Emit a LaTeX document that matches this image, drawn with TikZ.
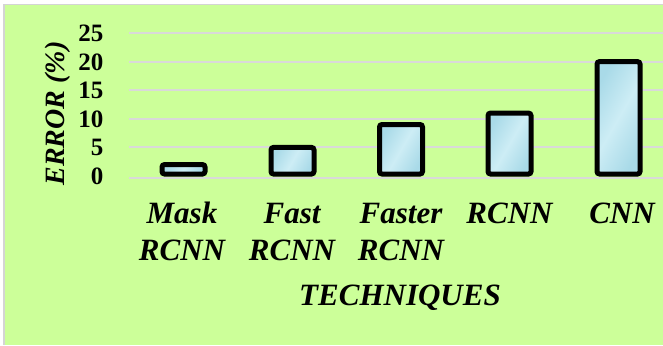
\documentclass[tikz,border=0pt]{standalone}
\usepackage{fontspec}
\setmainfont{Liberation Serif}
\definecolor{bgreen}{HTML}{CCFF99}
\definecolor{gridgray}{HTML}{D9D9D9}
\definecolor{framegray}{HTML}{D4D4D4}
\definecolor{barblue}{HTML}{A9DAE8}
\definecolor{barlight}{HTML}{CDEDF5}
\tikzset{
  gridline/.style={draw=gridgray, line width=2pt},
  barbox/.style={draw=black, line width=5pt, rounded corners=2.5pt, top color=barblue, bottom color=barblue, middle color=barlight, shading angle=60},
  ticklabel/.style={anchor=base east, inner sep=0pt, font=\fontsize{25}{30}\selectfont\bfseries},
  catlabel/.style={anchor=base, inner sep=0pt, font=\fontsize{31}{37}\selectfont\bfseries\itshape},
  axtitle/.style={anchor=base, inner sep=0pt, font=\fontsize{28}{34}\selectfont\bfseries\itshape},
}
\begin{document}
\begin{tikzpicture}[x={(1pt,0)}, y={(0,-1pt)}]
\useasboundingbox (0,0) rectangle (663,345);
\fill[white] (0,0) rectangle (663,345);
\fill[framegray] (3,4) rectangle (663,345);
\fill[bgreen] (5,5.5) rectangle (663,345);
% gridlines
\foreach \v in {5,10,15,20,25} {
  \draw[gridline] (129,{176-5.72*\v}) -- (663,{176-5.72*\v});
}
% bars
\foreach \c/\v in {183.5/2, 292.5/5, 401/9, 509.5/11, 618.5/20} {
  \draw[barbox] ({\c-21.5},174) rectangle ({\c+21.5},{176-5.72*\v});
}
\draw[gridline] (129,177.5) -- (663,177.5);
% tick labels
\node[ticklabel] (t0)  at (103.5,{176+8.5}) {0};
\node[ticklabel] (t5)  at (103.5,{176-5.72*5+8.5}) {5};
\node[ticklabel] (t10) at (103.5,{176-5.72*10+8.5}) {10};
\node[ticklabel] (t15) at (103.5,{176-5.72*15+8.5}) {15};
\node[ticklabel] (t20) at (103.5,{176-5.72*20+8.5}) {20};
\node[ticklabel] (t25) at (103.5,{176-5.72*25+8.5}) {25};
% axis title
\node[axtitle, rotate=90] (ytitle) at (64,113.5) {ERROR (\%)};
% category labels
\node[catlabel] (c1a) at (182,223) {Mask};
\node[catlabel] (c1b) at (182,260) {RCNN};
\node[catlabel] (c2a) at (292,223) {Fast};
\node[catlabel] (c2b) at (292,260) {RCNN};
\node[catlabel] (c3a) at (401,223) {Faster};
\node[catlabel] (c3b) at (401,260) {RCNN};
\node[catlabel] (c4a) at (509.5,223) {RCNN};
\node[catlabel] (c5a) at (622,223) {CNN};
\node[catlabel] (xtitle) at (400,305) {TECHNIQUES};
\end{tikzpicture}
\end{document}
